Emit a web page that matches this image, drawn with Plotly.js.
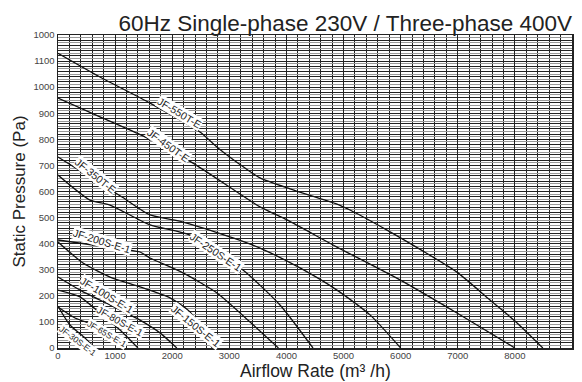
<!DOCTYPE html>
<html>
<head>
<meta charset="utf-8">
<script src="https://cdn.plot.ly/plotly-3.0.1.min.js"></script>
<style>html,body{margin:0;padding:0;background:#fff;}#chart{width:582px;height:382px;}</style>
</head>
<body>
<div id="chart"></div>
<script>
// ---- data (airflow m3/h, static pressure Pa) ----
const models = ['JF-550T-E','JF-450T-E','JF-350T-E','JF-250S-E-1','JF-200S-E-1','JF-150S-E-1','JF-100S-E-1','JF-80S-E-1','JF-65S-E-1','JF-30S-E-1'];
const q550 = [0, 735, 1611, 2486, 2802, 3274, 3537, 4062, 4885, 5113, 5761, 6356, 6986, 7564, 8020, 8490];
const p550 = [1130, 1039, 939, 828, 767, 690, 652, 610, 552, 529, 452, 376, 291, 184, 100, 0];
const q450 = [0, 735, 1488, 2364, 3537, 4010, 4885, 5988, 6986, 8000];
const p450 = [958, 886, 813, 709, 541, 491, 387, 261, 134, 0];
const q350 = [0, 1121, 1611, 2189, 3064, 3537, 4237, 4885, 5463, 6000];
const p350 = [732, 579, 510, 483, 422, 383, 307, 222, 127, 0];
const q250 = [0, 560, 910, 1611, 2311, 3239, 3887, 4465];
const p250 = [663, 567, 548, 472, 433, 299, 165, 0];
const q200 = [0, 735, 1436, 1611, 2189, 2784, 3362, 3860];
const p200 = [414, 391, 368, 345, 288, 211, 100, 0];
const q150 = [0, 438, 910, 1436, 1961, 2311, 2700];
const p150 = [406, 326, 272, 234, 192, 138, 0];
const q100 = [0, 385, 910, 1436, 1786, 2080];
const p100 = [272, 222, 165, 107, 58, 0];
const q80 = [0, 385, 735, 1086, 1400];
const p80 = [222, 196, 134, 69, 0];
const q65 = [0, 298, 648, 910, 1150];
const p65 = [157, 115, 88, 58, 0];
const q30 = [0, 210, 473, 640];
const p30 = [160, 88, 38, 0];

const xTickVals = [0,1000,2000,3000,4000,5000,6000,7000,8000,9000];
const xTickText = ['0','1000','2000','3000','4000','5000','6000','7000','8000','9000'];
const yTickVals = [0,100,200,300,400,500,600,700,800,900,1000,1100,1200];
const yTickText = ['0','100','200','300','400','500','600','700','800','900','1000','1100','1000'];

// ---- build ----
const FONT = 'Liberation Sans, Arial, Helvetica, sans-serif';
const seriesQ = [q550,q450,q350,q250,q200,q150,q100,q80,q65,q30];
const seriesP = [p550,p450,p350,p250,p200,p150,p100,p80,p65,p30];
const traces = models.map((m,i)=>({
  x: seriesQ[i], y: seriesP[i], name: m, type:'scatter', mode:'lines',
  line:{color:'#111', width:1.3, shape:'spline', smoothing:0.6},
  hoverinfo:'skip', showlegend:false
}));
// invisible helper trace so the overlay axis (20 Pa black grid) is drawn
traces.push({x:[0], y:[0], yaxis:'y2', type:'scatter', mode:'markers', marker:{opacity:0}, hoverinfo:'skip', showlegend:false});

// label placement (x, y in data units, angle, size)
const labelPos = [
  [2136, 901, 31, 10.5], [1926, 778, 36, 10.5], [665, 659, 39, 10.5],
  [2766, 368, 34, 10.5], [770, 410, 17, 10.5], [2416, 84, 39, 10.5],
  [858, 203, 31, 10.5], [1086, 100, 29, 10], [858, 54, 30, 8.5], [350, 27, 37, 8.5]
];
const annotations = models.map((m,i)=>({
  x: labelPos[i][0], y: labelPos[i][1], xref:'x', yref:'y', text: m,
  showarrow:false, textangle: labelPos[i][2], bgcolor:'#fff', borderpad:0,
  font:{family:FONT, size: labelPos[i][3], color:'#222'}
}));
// x-axis title (placed just below the tick labels)
annotations.push({
  text:'Airflow Rate (m\u00b3 /h)', xref:'paper', yref:'paper', x:0.5, y:-0.1086,
  xanchor:'center', yanchor:'bottom', showarrow:false, borderpad:0,
  font:{family:FONT, size:17.5, color:'#222'}
});

const layout = {
  width:582, height:382,
  margin:{l:58, r:10, t:35, b:34},
  paper_bgcolor:'#fff', plot_bgcolor:'#fff',
  font:{family:FONT, color:'#333'},
  title:{text:'60Hz Single-phase 230V / Three-phase 400V', x:0.983, xanchor:'right', y:0.94, yanchor:'middle',
         font:{size:22.5, color:'#222', family:FONT}},
  xaxis:{
    range:[0,9000], tickmode:'array', tickvals:xTickVals, ticktext:xTickText,
    showgrid:true, gridcolor:'#222', gridwidth:1.2, zeroline:false,
    showline:true, linecolor:'#222', linewidth:1.5, mirror:true,
    ticks:'', tickfont:{size:9.5, color:'#444'}, ticklabelstandoff:-2,
    minor:{tickmode:'linear', tick0:0, dtick:200, showgrid:true, gridcolor:'#222', gridwidth:1},
    automargin:false, fixedrange:true
  },
  yaxis:{
    range:[0,1200], tickmode:'array', tickvals:yTickVals, ticktext:yTickText,
    showgrid:true, gridcolor:'#222', gridwidth:1, zeroline:false,
    showline:true, linecolor:'#222', linewidth:1.5, mirror:true,
    ticks:'', tickfont:{size:9.5, color:'#444'},
    minor:{tickmode:'linear', tick0:0, dtick:10, showgrid:true, gridcolor:'#999', gridwidth:1},
    title:{text:'Static Pressure (Pa)', font:{size:17, color:'#222'}, standoff:3},
    automargin:false, fixedrange:true
  },
  yaxis2:{
    overlaying:'y', range:[0,1200], tickmode:'linear', tick0:0, dtick:20,
    showgrid:true, gridcolor:'#222', gridwidth:1, showticklabels:false, ticks:'',
    zeroline:false, showline:false, fixedrange:true
  },
  annotations: annotations
};
Plotly.newPlot('chart', traces, layout, {staticPlot:true, displayModeBar:false});
</script>
</body>
</html>
